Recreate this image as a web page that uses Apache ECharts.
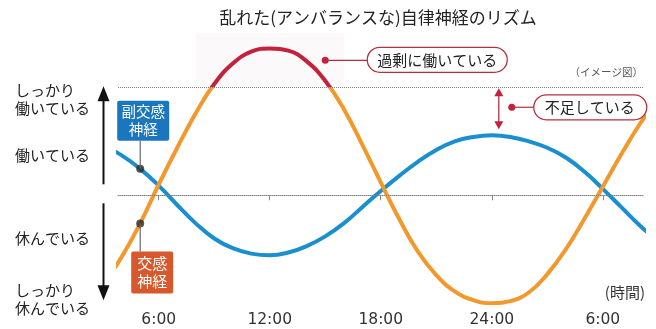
<!DOCTYPE html>
<html><head><meta charset="utf-8">
<script src="https://cdn.jsdelivr.net/npm/echarts@6/dist/echarts.min.js"></script>
<style>html,body{margin:0;padding:0;background:#fff}#c{width:656px;height:329px}</style>
</head><body><div id="c"></div>
<script>
// ---- data ----
const hours = [3,4,5,6,7,8,9,10,11,12,13,14,15,16,17,18,19,20,21,22,23,24,25,26,27,28,29,30,31,32,33];
const sympathetic = [-0.82,-0.57,-0.26,0.10,0.44,0.76,1.03,1.22,1.33,1.36,1.34,1.24,1.06,0.80,0.47,0.12,-0.22,-0.52,-0.74,-0.89,-0.97,-1.00,-0.98,-0.90,-0.73,-0.50,-0.22,0.08,0.38,0.66,0.90];
const parasympathetic = [0.46,0.37,0.245,0.09,-0.09,-0.26,-0.40,-0.49,-0.54,-0.555,-0.53,-0.47,-0.38,-0.26,-0.11,0.04,0.18,0.31,0.42,0.50,0.54,0.555,0.54,0.50,0.44,0.35,0.22,0.06,-0.11,-0.28,-0.43];
const timeTickValues = [6,12,18,24,30];
const timeTickLabels = ['6:00','12:00','18:00','24:00','6:00'];
const levelValues = [0.887,0.373,-0.395,-0.965];
const levelLabels = ['しっかり\n働いている','働いている','休んでいる','しっかり\n休んでいる'];
const guideLevels = [0,1];
const overLevel = 1;
const pointerHour = 5;
const excessAnchor = [15.0, 1.25];
const shortageHour = 24.38;
const shortageDot = [25.08, 0.815];
const excessBand = [8.0, 16.0];

const JP = '"Noto Sans CJK JP"';
const ORANGE = '#f2982c', RED = '#c4213c', BLUE = '#1a8fcf', ANN = '#b3303f';
const H = 329;

const symData = hours.map((h,i)=>[h, sympathetic[i]]);
const parData = hours.map((h,i)=>[h, parasympathetic[i]]);
const idx = hours.indexOf(pointerHour);

const chart = echarts.init(document.getElementById('c'));
chart.setOption({
  animation:false,
  backgroundColor:'#fff',
  grid:{left:118, right:12.5, top:33.3, bottom:25.7},
  xAxis:{type:'value', min:3.8, max:32.2,
    axisLine:{show:true, lineStyle:{type:'dotted', color:'#808080', width:1}},
    axisTick:{show:true, customValues:timeTickValues, length:5, lineStyle:{color:'#888'}},
    axisLabel:{customValues:timeTickValues, margin:9, fontSize:15.5, color:'#333', fontFamily:'DejaVu Sans',
      formatter:v=>timeTickLabels[timeTickValues.indexOf(v)]},
    splitLine:{show:false}},
  yAxis:{type:'value', min:-1, max:1.5,
    axisLine:{show:false}, axisTick:{show:false}, splitLine:{show:false},
    axisLabel:{customValues:levelValues, align:'left', margin:103, fontSize:15, lineHeight:18, color:'#222', fontFamily:'Noto Sans CJK JP',
      formatter:v=>{let k=0,b=1e9;levelValues.forEach((x,i)=>{if(Math.abs(x-v)<b){b=Math.abs(x-v);k=i;}});return levelLabels[k];}}},
  series:[
    {type:'line', name:'交感神経', data:symData, smooth:0.45, showSymbol:false, clip:true, z:3,
      lineStyle:{width:4, color:ORANGE}},
    {type:'line', name:'副交感神経', data:parData, smooth:0.45, showSymbol:false, clip:true, z:2,
      lineStyle:{width:4, color:BLUE}, itemStyle:{color:BLUE},
      markLine:{silent:true, symbol:'none', label:{show:false},
        lineStyle:{type:'dotted', color:'#808080', width:1},
        data:guideLevels.map(v=>({yAxis:v}))},
      markArea:{silent:true, itemStyle:{color:'rgba(236,226,229,0.22)'},
        data:[[{xAxis:excessBand[0], yAxis:overLevel},{xAxis:excessBand[1], yAxis:1.5}]]}},
    {type:'scatter', data:[[pointerHour, sympathetic[idx]],[pointerHour, parasympathetic[idx]]],
      symbolSize:8, itemStyle:{color:'#2a2a2a'}, z:6}
  ]
});

const px = (x,y)=>chart.convertToPixel({gridIndex:0},[x,y]);
const yUp = px(0,overLevel)[1], yMid = px(0,0)[1], yBot = px(0,-1)[1];
const f = yUp / H;
const grad = {type:'linear', x:0, y:0, x2:0, y2:H, global:true,
  colorStops:[{offset:0,color:RED},{offset:f,color:RED},{offset:f,color:ORANGE},{offset:1,color:ORANGE}]};

const g = [];
function txt(t,x,y,size,fill,align,family){g.push({type:'text',z:100,style:{text:t,x:x,y:y,font:'normal '+size+'px '+(family||JP),fill:fill,textAlign:align||'center',textVerticalAlign:'middle'}});}
function line(x1,y1,x2,y2,c,w){g.push({type:'line',z:99,shape:{x1,y1,x2,y2},style:{stroke:c,lineWidth:w}});}
function tri(pts,c){g.push({type:'polygon',z:99,shape:{points:pts},style:{fill:c}});}
function rect(x,y,w,h,r,fill,stroke){g.push({type:'rect',z:99,shape:{x,y,width:w,height:h,r:r},style:{fill:fill,stroke:stroke||null,lineWidth:1.3}});}
function dot(x,y,r,c){g.push({type:'circle',z:100,shape:{cx:x,cy:y,r:r},style:{fill:c}});}

// title & notes
txt('乱れた(アンバランスな)自律神経のリズム',378,18,17,'#222');
txt('（イメージ図）',643,72,10.5,'#555','right');
txt('(時間)',645,292,15,'#333','right');

// left arrows
const ax = 103.5;
line(ax, yMid-11, ax, yUp+12, '#111', 2);
tri([[ax,yUp-1],[ax-6,yUp+14],[ax+6,yUp+14]],'#111');
line(ax, yMid+8, ax, yBot-16, '#111', 2);
tri([[ax,yBot-3],[ax-6,yBot-18],[ax+6,yBot-18]],'#111');

// legend boxes
const pb = px(pointerHour, parasympathetic[idx]);
const po = px(pointerHour, sympathetic[idx]);
line(pb[0], pb[1], pb[0], pb[1]-28, '#666', 1.2);
rect(pb[0]-23, pb[1]-68, 52, 40, 2, '#1a76bd');
txt('副交感', pb[0]+3, pb[1]-57, 14.5, '#fff');
txt('神経', pb[0]+3, pb[1]-39, 14.5, '#fff');
line(po[0], po[1], po[0], po[1]+28, '#666', 1.2);
rect(po[0]-9, po[1]+28, 42, 42, 2, '#d6582c');
txt('交感', po[0]+12, po[1]+40, 15, '#fff');
txt('神経', po[0]+12, po[1]+58, 15, '#fff');

// excess annotation
const ea = px(excessAnchor[0], excessAnchor[1]);
line(ea[0], ea[1], ea[0]+42, ea[1], ANN, 1.2);
dot(ea[0], ea[1], 3.5, RED);
rect(ea[0]+42, ea[1]-13, 140, 25, 12.5, '#fff', ANN);
txt('過剰に働いている', ea[0]+112, ea[1], 15, '#222');

// shortage annotation
const sTop = px(shortageHour, overLevel);
const sBot = px(shortageHour, Math.max.apply(null, parasympathetic));
const sx = sTop[0];
line(sx, sTop[1]+6, sx, sBot[1]-9, ANN, 1.3);
tri([[sx,sTop[1]+1],[sx-4.5,sTop[1]+9],[sx+4.5,sTop[1]+9]], RED);
tri([[sx,sBot[1]-6],[sx-4.5,sBot[1]-14],[sx+4.5,sBot[1]-14]], RED);
const sd = px(shortageDot[0], shortageDot[1]);
line(sd[0], sd[1], sd[0]+22, sd[1], ANN, 1.2);
dot(sd[0], sd[1], 3.5, RED);
rect(sd[0]+22, sd[1]-12.5, 113, 25, 12.5, '#fff', ANN);
txt('不足している', sd[0]+78, sd[1], 15, '#222');

chart.setOption({series:[{lineStyle:{color:grad}}], graphic:{elements:g}});
</script></body></html>
